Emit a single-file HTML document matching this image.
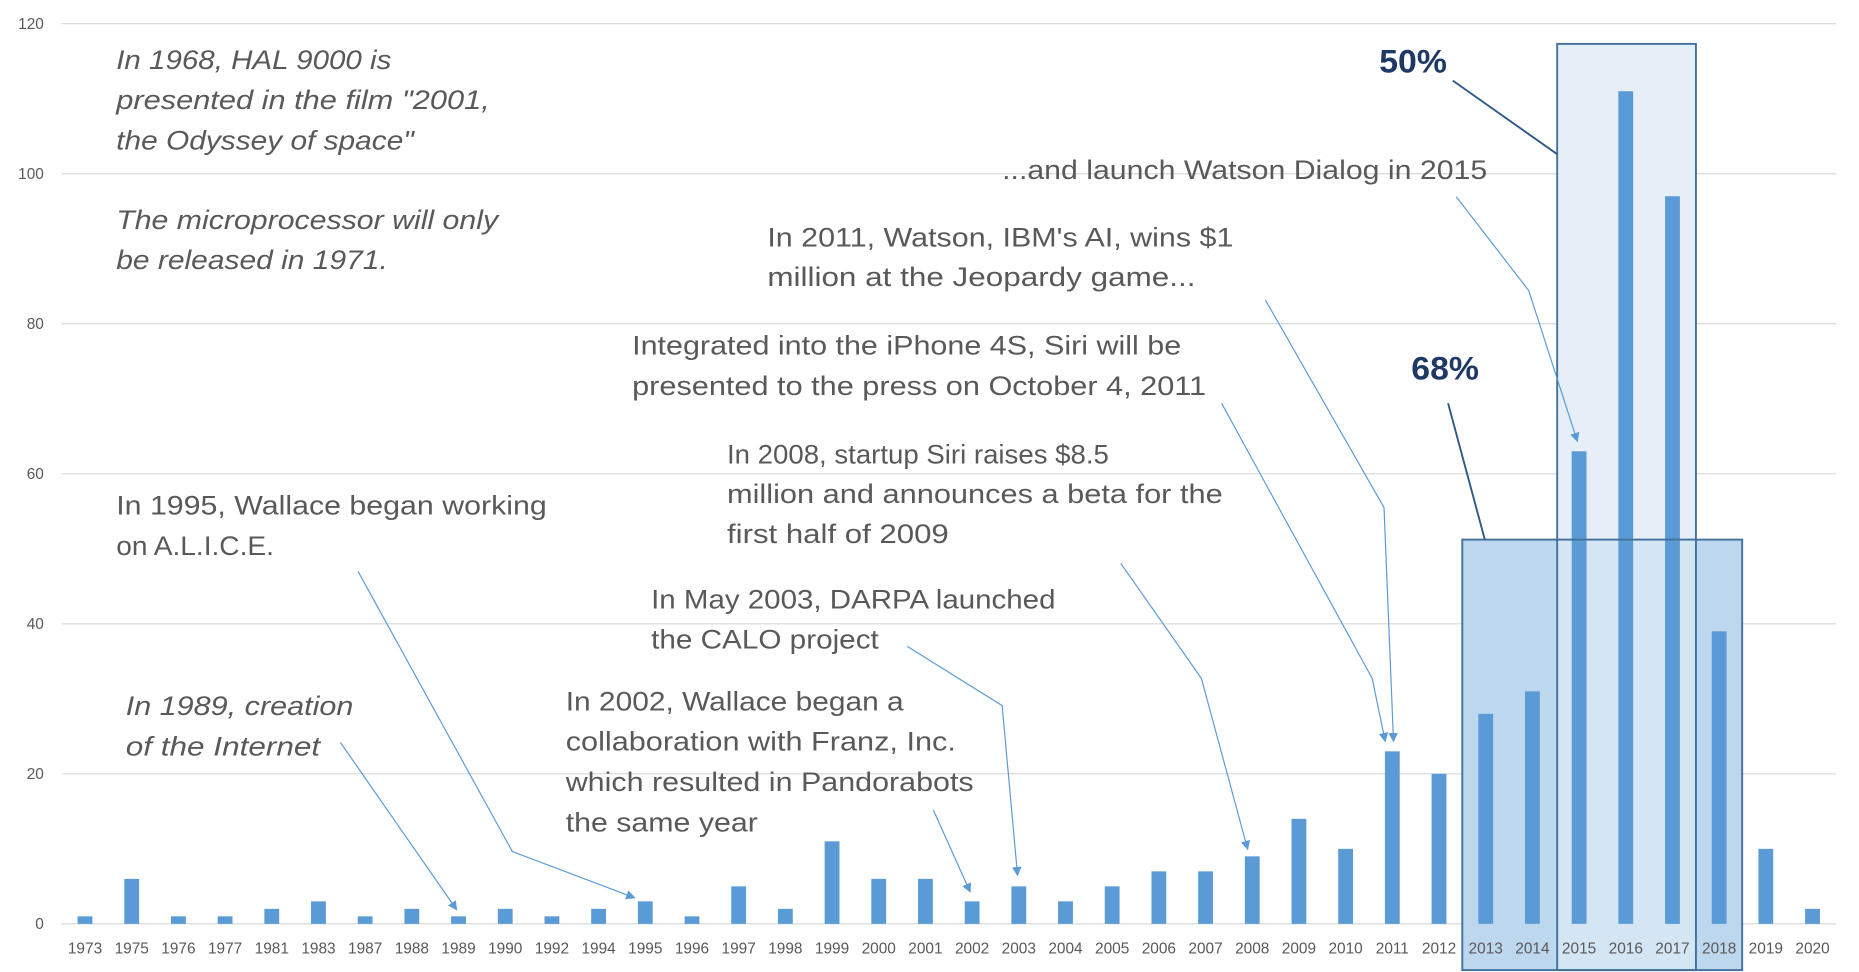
<!DOCTYPE html>
<html><head><meta charset="utf-8"><style>
html,body{margin:0;padding:0;background:#fff;width:1859px;height:972px;overflow:hidden}
svg{display:block}
.ann{font-family:"Liberation Sans",sans-serif;font-size:23px;fill:#595959}
.it{font-style:italic}
.pct{font-family:"Liberation Sans",sans-serif;font-size:27px;font-weight:bold;fill:#1f3864}
.tick{font-family:"Liberation Sans",sans-serif;font-size:13px;fill:#595959}
</style></head><body>
<svg id="chart" width="1859" height="972" viewBox="0 0 1567.5 819.6" preserveAspectRatio="none" xmlns="http://www.w3.org/2000/svg">
<defs><marker id="ah" markerWidth="8" markerHeight="8" refX="7" refY="4" orient="auto" markerUnits="userSpaceOnUse"><path d="M0,0 L8,4 L0,8 z" fill="#5b9bd5"/></marker></defs>
<g id="grid"></g>
<g id="boxes">
<rect x="1233" y="455" width="236" height="363" fill="#bdd7ee"/>
<rect x="1313" y="37" width="117" height="418" fill="#e6eff8"/>
<rect x="1313" y="455" width="117" height="363" fill="#d4e5f3"/>
</g>
<g id="bars"></g>
<g fill="none" stroke="#41719c" stroke-width="1.6">
<rect x="1233" y="455" width="236" height="363"/>
<rect x="1313" y="37" width="117" height="781"/>
</g>
<g id="xlabels"></g>
<g id="ylabels"></g>
<g fill="none" stroke="#5b9bd5" stroke-width="1" marker-end="url(#ah)">
<polyline points="287,626 385,767"/>
<polyline points="302,482 432,718 535,757"/>
<polyline points="787,683 818,752"/>
<polyline points="765,545 845,595 858,738"/>
<polyline points="945,475 1013,572 1052,716"/>
<polyline points="1030,340 1157,572 1168,625"/>
<polyline points="1067,253 1167,428 1175,625"/>
<polyline points="1228,166 1289,245 1330,372"/>
</g>
<g stroke="#2e5a8a" stroke-width="1.6" fill="none">
<line x1="1225" y1="68" x2="1313" y2="130"/>
<line x1="1221" y1="340" x2="1252" y2="455"/>
</g>
<text class="pct" x="1163" y="61" textLength="57" lengthAdjust="spacingAndGlyphs">50%</text>
<text class="pct" x="1190" y="320" textLength="57" lengthAdjust="spacingAndGlyphs">68%</text>
<g class="ann it">
<text x="98" y="58" textLength="232" lengthAdjust="spacingAndGlyphs">In 1968, HAL 9000 is</text>
<text x="98" y="92" textLength="315" lengthAdjust="spacingAndGlyphs">presented in the film "2001,</text>
<text x="98" y="126" textLength="251" lengthAdjust="spacingAndGlyphs">the Odyssey of space"</text>
<text x="98" y="193" textLength="322" lengthAdjust="spacingAndGlyphs">The microprocessor will only</text>
<text x="98" y="227" textLength="229" lengthAdjust="spacingAndGlyphs">be released in 1971.</text>
</g>
<g class="ann it">
<text x="106" y="603" textLength="192" lengthAdjust="spacingAndGlyphs">In 1989, creation</text>
<text x="106" y="637" textLength="164" lengthAdjust="spacingAndGlyphs">of the Internet</text>
</g>
<g class="ann">
<text x="98" y="434" textLength="363" lengthAdjust="spacingAndGlyphs">In 1995, Wallace began working</text>
<text x="98" y="468" textLength="133" lengthAdjust="spacingAndGlyphs">on A.L.I.C.E.</text>
</g>
<g class="ann">
<text x="477" y="599" textLength="285" lengthAdjust="spacingAndGlyphs">In 2002, Wallace began a</text>
<text x="477" y="633" textLength="329" lengthAdjust="spacingAndGlyphs">collaboration with Franz, Inc.</text>
<text x="477" y="667" textLength="344" lengthAdjust="spacingAndGlyphs">which resulted in Pandorabots</text>
<text x="477" y="701" textLength="162" lengthAdjust="spacingAndGlyphs">the same year</text>
</g>
<g class="ann">
<text x="549" y="513" textLength="341" lengthAdjust="spacingAndGlyphs">In May 2003, DARPA launched</text>
<text x="549" y="547" textLength="192" lengthAdjust="spacingAndGlyphs">the CALO project</text>
</g>
<g class="ann">
<text x="613" y="391" textLength="322" lengthAdjust="spacingAndGlyphs">In 2008, startup Siri raises $8.5</text>
<text x="613" y="424" textLength="418" lengthAdjust="spacingAndGlyphs">million and announces a beta for the</text>
<text x="613" y="458" textLength="187" lengthAdjust="spacingAndGlyphs">first half of 2009</text>
</g>
<g class="ann">
<text x="533" y="299" textLength="463" lengthAdjust="spacingAndGlyphs">Integrated into the iPhone 4S, Siri will be</text>
<text x="533" y="333" textLength="484" lengthAdjust="spacingAndGlyphs">presented to the press on October 4, 2011</text>
</g>
<g class="ann">
<text x="647" y="208" textLength="393" lengthAdjust="spacingAndGlyphs">In 2011, Watson, IBM's AI, wins $1</text>
<text x="647" y="241" textLength="361" lengthAdjust="spacingAndGlyphs">million at the Jeopardy game...</text>
</g>
<text class="ann" x="845" y="151" textLength="409" lengthAdjust="spacingAndGlyphs">...and launch Watson Dialog in 2015</text>
</svg>
<script>
const categories = ["1973","1975","1976","1977","1981","1983","1987","1988","1989","1990","1992","1994","1995","1996","1997","1998","1999","2000","2001","2002","2003","2004","2005","2006","2007","2008","2009","2010","2011","2012","2013","2014","2015","2016","2017","2018","2019","2020"];
const values = [1,6,1,1,2,3,1,2,1,2,1,2,3,1,5,2,11,6,6,3,5,3,5,7,7,9,14,10,23,20,28,31,63,111,97,39,10,2];
const yTicks = [0,20,40,60,80,100,120];

const NS = "http://www.w3.org/2000/svg";
const plotL = 52, plotR = 1548, y0 = 779, y120 = 20;
const band = (plotR - plotL) / categories.length;
function xScale(i){ return plotL + band * (i + 0.5); }
function yScale(v){ return y0 - (v / 120) * (y0 - y120); }

const grid = document.getElementById('grid');
const yl = document.getElementById('ylabels');
yTicks.forEach(t => {
  const l = document.createElementNS(NS,'line');
  
  
  l.setAttribute('x1', plotL); l.setAttribute('x2', plotR);
  l.setAttribute('y1', yScale(t)); l.setAttribute('y2', yScale(t));
  l.setAttribute('stroke', '#d9d9d9'); l.setAttribute('stroke-width', '1');
  grid.appendChild(l);
  const tx = document.createElementNS(NS,'text');
  
  
  tx.setAttribute('class', 'tick');
  tx.setAttribute('x', 37); tx.setAttribute('y', yScale(t) + 4.5);
  tx.setAttribute('text-anchor', 'end');
  tx.textContent = t;
  yl.appendChild(tx);
});

const bars = document.getElementById('bars');
const xl = document.getElementById('xlabels');
const bw = 12.5;
categories.forEach((c, i) => {
  const r = document.createElementNS(NS,'rect');
  
  
  r.setAttribute('x', xScale(i) - bw/2);
  r.setAttribute('y', yScale(values[i]));
  r.setAttribute('width', bw);
  r.setAttribute('height', y0 - yScale(values[i]));
  r.setAttribute('fill', '#5b9bd5');
  bars.appendChild(r);
  const tx = document.createElementNS(NS,'text');
  
  
  tx.setAttribute('class', 'tick');
  tx.setAttribute('x', xScale(i)); tx.setAttribute('y', 804);
  tx.setAttribute('text-anchor', 'middle');
  tx.textContent = c;
  xl.appendChild(tx);
});
</script>
</body></html>
